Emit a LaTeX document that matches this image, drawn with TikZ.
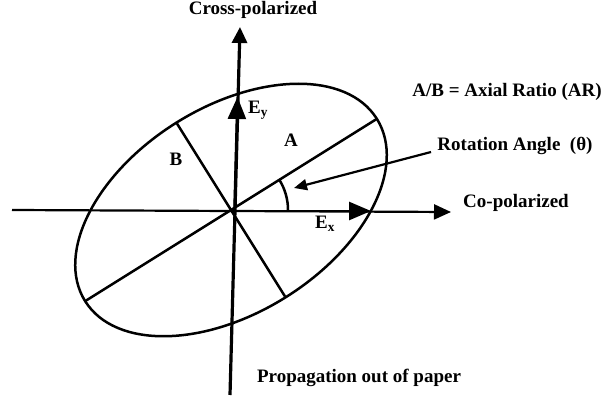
\documentclass[tikz,border=0pt]{standalone}
\usepackage{fontspec}
\setmainfont{Liberation Serif}
\usetikzlibrary{arrows.meta,calc}
\begin{document}
\begin{tikzpicture}[x=1pt,y=1pt,
  lbl/.style={font=\fontsize{19}{21}\selectfont\bfseries, inner sep=0pt},
  vec/.style={line width=2.6pt, -{Triangle[length=22pt,width=18pt]}},
  curve/.style={line width=2.5pt},
  pointer/.style={line width=2.2pt, -{Triangle[length=13pt,width=11pt]}}]
\useasboundingbox (0,0) rectangle (605,402);
% coordinates
\coordinate (C) at (231,192);
\coordinate (O) at (234.5,191);
\coordinate (vb) at (230,7);
\coordinate (vt) at (240,375);
\coordinate (hl) at (12,192);
\coordinate (hr) at (451,190);
\coordinate (ex) at (371,191);
\coordinate (ey) at (237.5,305);
\coordinate (M1) at ($(C)+(32:172pt)$);
\coordinate (M2) at ($(C)+(212:172pt)$);
\coordinate (m1) at ($(C)+(122:102pt)$);
\coordinate (m2) at ($(C)+(302:102pt)$);
\coordinate (rs) at (431,250);
\coordinate (rt) at (294,214);
% ellipse
\draw[curve, rotate around={32:(C)}] (C) ellipse [x radius=172pt, y radius=103pt];
\draw[curve] (M2) -- (M1);
\draw[curve] (m1) -- (m2);
% axes
\draw[line width=2.2pt, -{Triangle[length=17pt,width=15pt]}] (hl) -- (hr);
\draw[line width=3.2pt, -{Triangle[length=16pt,width=15pt]}] (vb) -- (vt);
% field vectors
\draw[vec] (O) -- (ex);
\draw[vec] (O) -- (ey);
% angle
\draw[curve] ($(C)+(57pt,0)$) arc[start angle=0, end angle=32, radius=57pt];
\draw[pointer] (rs) -- (rt);
% labels
\node[lbl] (cross) at (253,392) {Cross-polarized};
\node[lbl] (ar) at (507,310) {A/B = Axial Ratio (AR)};
\node[lbl] (rot) at (515,256) {Rotation Angle\ \ (θ)};
\node[lbl] (co) at (516,199) {Co-polarized};
\node[lbl] (prop) at (359,24) {Propagation out of paper};
\node[lbl] (A) at (291,262) {A};
\node[lbl] (B) at (176,243) {B};
\node[lbl, anchor=west] (Ey) at (248,292) {E\textsubscript{y}};
\node[lbl, anchor=west] (Ex) at (315,178) {E\textsubscript{x}};
\end{tikzpicture}
\end{document}
